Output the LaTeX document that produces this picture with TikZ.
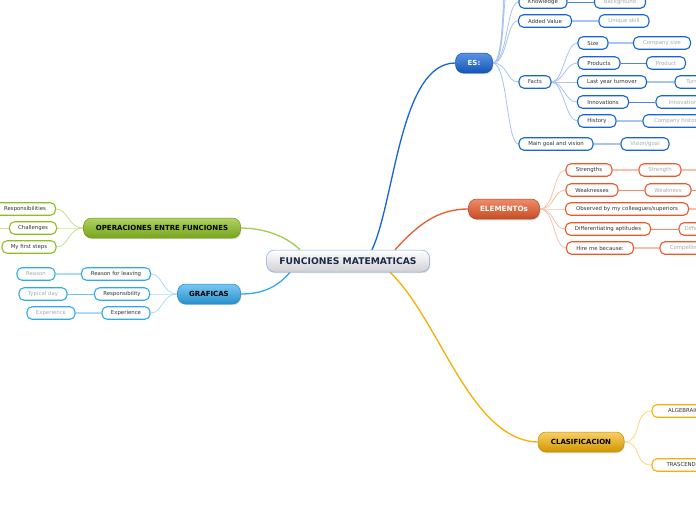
\documentclass[tikz,border=0pt]{standalone}
\usepackage{fontspec}
\setmainfont{DejaVu Sans}
\usetikzlibrary{shadows}
\definecolor{esB}{HTML}{1565D8}
\definecolor{esL}{HTML}{A8C4F0}
\definecolor{esM}{HTML}{4D86E0}
\definecolor{orB}{HTML}{E85A2A}
\definecolor{orL}{HTML}{F8C0AB}
\definecolor{orM}{HTML}{F08A60}
\definecolor{goB}{HTML}{F5B000}
\definecolor{goL}{HTML}{FCD77A}
\definecolor{grB}{HTML}{8CC020}
\definecolor{grL}{HTML}{C8E290}
\definecolor{cyB}{HTML}{30AAEE}
\definecolor{cyL}{HTML}{A8DCF8}
\definecolor{cyM}{HTML}{6CC4F4}
\definecolor{txtA}{HTML}{333333}
\definecolor{txtB}{HTML}{AAAAAA}
\definecolor{navy}{HTML}{1B2A48}
\pgfdeclarelayer{bg}
\pgfsetlayers{bg,main}
\tikzset{
  sub/.style={rounded corners=5pt, line width=1.1pt, minimum height=12.5pt, inner sep=1pt, fill=white, text=txtA, font=\fontsize{5.4}{6}\selectfont},
  subg/.style={sub, text=txtB},
  topic/.style={rounded corners=8pt, line width=0.5pt, minimum height=20pt, inner sep=2pt, font=\bfseries\fontsize{7}{8}\selectfont, drop shadow={opacity=0.25, shadow xshift=0.8pt, shadow yshift=-1.2pt}},
  thin/.style={line width=0.8pt},
  thick/.style={line width=2.8pt},
  cur/.style={line width=0.8pt},
}
\begin{document}
\begin{tikzpicture}[x=1pt, y=-1pt]
\path[use as bounding box] (0,0) rectangle (696,520);
\clip (0,0) rectangle (696,520);
\begin{pgfonlayer}{bg}
\fill[white] (0,0) rectangle (696,520);
\end{pgfonlayer}

% ---------- central
\node[topic, minimum width=163pt, minimum height=22pt, draw=esM!70, top color=white, bottom color=black!5!blue!5!gray!35, text=navy, font=\bfseries\fontsize{9.2}{10}\selectfont] (center) at (348,261) {FUNCIONES MATEMATICAS};

% ---------- ES branch
\node[topic, minimum width=37pt, draw=esB!80!black, top color=esB!70!white, bottom color=esB!85!black, text=white] (es) at (474,63) {ES:};
\node[sub, draw=esB, minimum width=48pt] (know) at (543,2) {Knowledge};
\node[subg, draw=esB, minimum width=51pt] (back) at (620,2) {Background};
\node[sub, draw=esB, minimum width=53pt] (added) at (545,21) {Added Value};
\node[subg, draw=esB, minimum width=50pt] (uniq) at (624,21) {Unique skill};
\node[sub, draw=esB, minimum width=32pt] (facts) at (535,82) {Facts};
\node[sub, draw=esB, minimum width=30pt] (size) at (593,43) {Size};
\node[subg, draw=esB, minimum width=57pt] (csize) at (662,43) {Company size};
\node[sub, draw=esB, minimum width=42pt] (prods) at (599,63) {Products};
\node[subg, draw=esB, minimum width=39pt] (prod) at (666,63) {Product};
\node[sub, draw=esB, minimum width=69pt] (last) at (612,82) {Last year turnover};
\node[subg, draw=esB, minimum width=46pt] (turn) at (698,82) {Turnover};
\node[sub, draw=esB, minimum width=51pt] (innovs) at (603,102) {Innovations};
\node[subg, draw=esB, minimum width=54pt] (innov) at (683,102) {Innovation};
\node[sub, draw=esB, minimum width=38pt] (hist) at (597,121) {History};
\node[subg, draw=esB, minimum width=68pt] (chist) at (677,121) {Company history};
\node[sub, draw=esB, minimum width=74pt] (goal) at (556,144) {Main goal and vision};
\node[subg, draw=esB, minimum width=48pt] (vision) at (645,144) {Vision/goal};
\coordinate (esoff1) at (512,-22);
\coordinate (esoff2) at (512,-40);
\coordinate (esoff3) at (512,-58);

% ---------- ELEMENTOS branch
\node[topic, minimum width=71pt, draw=orB!80!black, top color=orB!70!white, bottom color=orB!85!black, text=white, font=\bfseries\fontsize{7.2}{8}\selectfont] (elem) at (504,209) {ELEMENTOs};
\node[sub, draw=orB, minimum width=46pt] (str) at (589,170) {Strengths};
\node[subg, draw=orB, minimum width=42pt] (str2) at (660,170) {Strength};
\node[sub, draw=orB, minimum width=52pt] (weak) at (592,190) {Weaknesses};
\node[subg, draw=orB, minimum width=46pt] (weak2) at (668,190) {Weakness};
\node[sub, draw=orB, minimum width=123pt] (obs) at (627,209) {Observed by my colleagues/superiors};
\node[sub, draw=orB, minimum width=85pt] (diff) at (608,229) {Differentiating aptitudes};
\node[subg, draw=orB, minimum width=50pt] (diff2) at (704,229) {Differentiating};
\node[sub, draw=orB, minimum width=67pt] (hire) at (600,248) {Hire me because:};
\node[subg, draw=orB, minimum width=70pt] (comp) at (695,248) {Compelling reason};
\coordinate (stroff) at (712,170);
\coordinate (weakoff) at (712,190);
\coordinate (obsoff) at (712,209);

% ---------- CLASIFICACION
\node[topic, minimum width=86pt, draw=goB!80!black, top color=goB!60!white, bottom color=goB!85!black, text=black] (clas) at (581,442) {CLASIFICACION};
\node[sub, draw=goB, minimum width=70pt] (alg) at (687,411) {ALGEBRAICAS};
\node[sub, draw=goB, minimum width=76pt] (tras) at (690,465) {TRASCENDENTES};

% ---------- OPERACIONES
\node[topic, minimum width=157pt, draw=grB!80!black, top color=grB!70!white, bottom color=grB!85!black, text=black] (oper) at (162,228) {OPERACIONES ENTRE FUNCIONES};
\node[sub, draw=grB, minimum width=61pt] (resp) at (25,209) {Responsibilities};
\node[sub, draw=grB, minimum width=47pt] (chal) at (33,228) {Challenges};
\node[sub, draw=grB, minimum width=54pt] (first) at (29,247) {My first steps};
\coordinate (chaloff) at (-10,228);

% ---------- GRAFICAS
\node[topic, minimum width=63pt, draw=cyB!80!black, top color=cyB!65!white, bottom color=cyB!85!black, text=black] (graf) at (209,294) {GRAFICAS};
\node[sub, draw=cyB, minimum width=69pt] (leav) at (116,274) {Reason for leaving};
\node[subg, draw=cyB, minimum width=38pt] (reason) at (36,274) {Reason};
\node[sub, draw=cyB, minimum width=55pt] (respo) at (122,294) {Responsibility};
\node[subg, draw=cyB, minimum width=48pt] (typ) at (43,294) {Typical day};
\node[sub, draw=cyB, minimum width=48pt] (exp) at (126,313) {Experience};
\node[subg, draw=cyB, minimum width=48pt] (exp2) at (51,313) {Experience};

% ---------- connectors (behind nodes)
\begin{pgfonlayer}{bg}
% main branches
\draw[line width=1.3pt, esB] ([xshift=24pt]center.north) .. controls (395,200) and (400,63) .. (es.west);
\draw[line width=1.3pt, orB] ([xshift=47pt]center.north) .. controls (420,222) and (440,209) .. (elem.west);
\draw[line width=1.3pt, goB] ([xshift=42pt]center.south) .. controls (440,320) and (470,440) .. (clas.west);
\draw[line width=1.3pt, grB!80] ([xshift=-48pt]center.north) .. controls (285,235) and (262,228) .. (oper.east);
\draw[line width=1.3pt, cyB] ([xshift=-58pt]center.south) .. controls (275,290) and (258,294) .. (graf.east);

% ES children
\foreach \t in {esoff1,esoff2,esoff3}
  \draw[cur, esL] (es.east) .. controls +(15,0) and +(-12,0) .. (\t);
\foreach \t in {know,added,facts,goal}
  \draw[cur, esL] (es.east) .. controls +(15,0) and +(-12,0) .. (\t.west);
\foreach \t in {size,prods,last,innovs,hist}
  \draw[cur, esL] (facts.east) .. controls +(12,0) and +(-12,0) .. (\t.west);
\draw[thin, esM] (know) -- (back);
\draw[thick, esL] (added) -- (uniq);
\draw[thick, esL] (size) -- (csize);
\draw[thin, esM] (prods) -- (prod);
\draw[thick, esL] (last) -- (turn);
\draw[thin, esM] (innovs) -- (innov);
\draw[thick, esL] (hist) -- (chist);
\draw[thick, esL] (goal) -- (vision);

% ELEMENTOS children
\foreach \t in {str,weak,obs,diff,hire}
  \draw[cur, orL] (elem.east) .. controls +(15,0) and +(-12,0) .. (\t.west);
\draw[thick, orL] (str) -- (str2);
\draw[thick, orL] (str2.east) -- (stroff);
\draw[thin, orM] (weak) -- (weak2);
\draw[thin, orM] (weak2.east) -- (weakoff);
\draw[thick, orL] (obs.east) -- (obsoff);
\draw[thin, orM] (diff) -- (diff2);
\draw[thick, orL] (hire) -- (comp);

% CLASIFICACION children
\foreach \t in {alg,tras}
  \draw[cur, goL] (clas.east) .. controls +(18,0) and +(-18,0) .. (\t.west);

% OPERACIONES children
\foreach \t in {resp,chal,first}
  \draw[cur, grL] (oper.west) .. controls +(-15,0) and +(12,0) .. (\t.east);
\draw[thin, grL] (chal.west) -- (chaloff);

% GRAFICAS children
\foreach \t in {leav,respo,exp}
  \draw[cur, cyL] (graf.west) .. controls +(-15,0) and +(12,0) .. (\t.east);
\draw[thick, cyL] (leav) -- (reason);
\draw[thin, cyM] (respo) -- (typ);
\draw[thick, cyL] (exp) -- (exp2);
\end{pgfonlayer}

\end{tikzpicture}
\end{document}
